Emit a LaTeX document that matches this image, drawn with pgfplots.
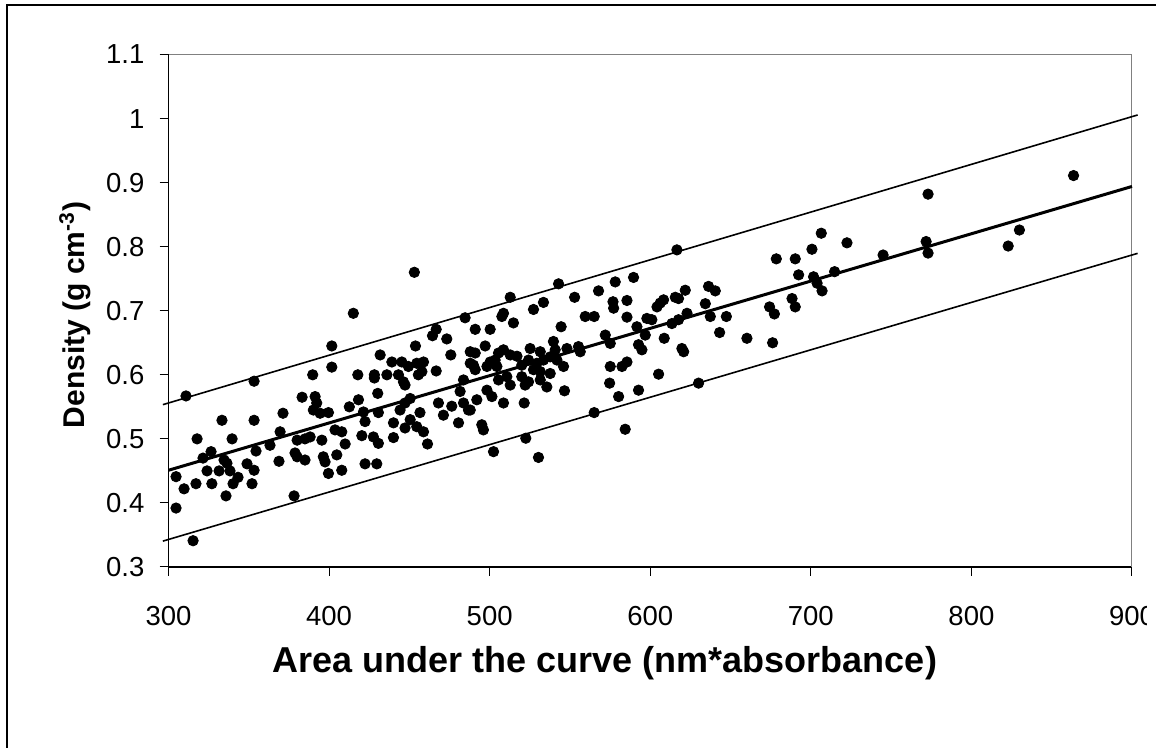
\documentclass[border=0pt]{standalone}
\usepackage{fontspec}
\setmainfont{Liberation Sans}
\usepackage{pgfplots}
\pgfplotsset{compat=1.18}
\begin{document}
\begin{tikzpicture}[x=1pt,y=1pt]
\useasboundingbox (0,0) rectangle (578,374);
\fill[white] (0,0) rectangle (578,374);
\draw[line width=1.1pt] (3.4,0) -- (3.4,371.6) -- (578,371.6);
\begin{axis}[
  at={(84.25pt,90.5pt)}, anchor=south west,
  scale only axis, width=481.75pt, height=256.25pt,
  xmin=300, xmax=900, ymin=0.3, ymax=1.1,
  xtick={300,400,500,600,700,800,900},
  ytick={0.3,0.4,0.5,0.6,0.7,0.8,0.9,1,1.1},
  axis x line*=bottom, axis y line*=left,
  axis line style={-, black, line width=0.6pt},
  tick align=outside, major tick length=4.5pt,
  tick style={black, line width=0.5pt},
  /pgf/number format/assume math mode=true,
  ticklabel style={font=\fontsize{13.75}{16}\selectfont},
  yticklabel style={xshift=-4pt, /pgf/number format/.cd, fixed, precision=1},
  xticklabel style={yshift=-11.5pt, /pgf/number format/.cd, fixed, precision=0},
  xlabel={Area under the curve (nm*absorbance)},
  ylabel={Density (g cm\textsuperscript{-3})},
  xlabel style={at={(axis description cs:0.453,-0.187)}, anchor=center, font=\bfseries\fontsize{18}{21}\selectfont},
  ylabel style={at={(axis description cs:-0.097,0.492)}, anchor=center, rotate=0, font=\bfseries\fontsize{15}{18}\selectfont},
  clip=false,
]
\draw[gray, line width=0.5pt] (axis cs:300,1.1) -- (axis cs:900,1.1) -- (axis cs:900,0.3);
\addplot[black, line width=0.8pt] coordinates {(296.5,0.5534) (903.5,1.0056)};
\addplot[black, line width=0.8pt] coordinates {(296.5,0.3404) (903.5,0.7896)};
\addplot[black, line width=1.5pt] coordinates {(300,0.451) (900,0.894)};
\addplot[only marks, mark=*, mark size=2.6pt, black, mark options={fill=black}] table {
x y
304.7 0.441
304.7 0.392
310.9 0.567
309.7 0.422
315.3 0.341
317.1 0.430
317.8 0.500
321.5 0.470
324.0 0.450
326.5 0.480
327.0 0.430
331.5 0.450
333.3 0.529
334.6 0.467
336.4 0.462
338.3 0.450
335.8 0.411
339.6 0.500
340.2 0.430
343.3 0.440
348.9 0.461
352.0 0.430
353.3 0.451
353.3 0.529
353.3 0.590
354.5 0.481
363.2 0.490
368.8 0.465
369.5 0.511
371.3 0.540
378.2 0.411
378.8 0.478
380.1 0.498
380.1 0.472
385.0 0.500
385.0 0.467
383.2 0.565
389.8 0.600
453.1 0.760
415.1 0.696
484.7 0.689
466.7 0.671
464.4 0.661
473.3 0.656
401.7 0.645
453.8 0.645
431.8 0.631
475.8 0.631
487.9 0.618
491.0 0.608
401.7 0.612
417.9 0.600
428.2 0.600
428.2 0.595
436.0 0.600
439.1 0.620
445.3 0.620
449.4 0.613
454.6 0.618
458.8 0.620
443.2 0.600
446.3 0.589
447.3 0.584
455.6 0.600
457.8 0.605
466.7 0.606
430.3 0.571
483.7 0.592
481.6 0.574
391.3 0.566
392.3 0.556
390.2 0.545
394.4 0.540
399.6 0.541
412.6 0.550
418.3 0.561
421.4 0.542
422.4 0.527
430.7 0.541
447.3 0.556
450.5 0.563
444.2 0.545
456.6 0.541
468.1 0.556
476.4 0.551
483.7 0.556
486.8 0.545
471.2 0.537
480.6 0.525
440.1 0.525
440.1 0.502
447.3 0.517
450.5 0.530
454.6 0.519
458.8 0.511
461.3 0.492
388.2 0.503
395.5 0.498
403.7 0.514
407.9 0.511
410.0 0.492
420.4 0.505
427.6 0.503
430.7 0.493
396.4 0.472
397.5 0.464
404.8 0.475
399.6 0.446
407.9 0.451
422.4 0.461
429.7 0.461
542.9 0.742
512.8 0.721
533.5 0.713
527.3 0.702
552.9 0.721
567.8 0.731
578.2 0.745
589.6 0.752
576.8 0.714
577.2 0.704
585.5 0.716
508.6 0.696
507.6 0.691
514.8 0.681
559.5 0.691
565.1 0.691
585.5 0.690
491.0 0.671
500.3 0.671
544.5 0.675
497.2 0.645
487.9 0.636
491.0 0.634
508.6 0.639
505.5 0.634
503.4 0.623
512.8 0.631
517.0 0.629
525.2 0.641
531.5 0.636
539.7 0.652
540.8 0.639
548.1 0.641
555.3 0.644
556.4 0.636
572.0 0.662
575.1 0.649
591.7 0.675
592.7 0.647
489.9 0.615
498.3 0.613
500.3 0.620
504.5 0.613
520.0 0.615
524.2 0.623
529.4 0.618
533.5 0.623
537.7 0.628
541.9 0.623
546.0 0.613
531.5 0.605
537.7 0.602
527.3 0.608
520.0 0.597
522.1 0.584
531.5 0.592
535.6 0.581
524.2 0.589
510.7 0.597
505.5 0.592
512.8 0.584
575.1 0.613
582.4 0.613
585.5 0.620
574.7 0.587
580.3 0.566
546.6 0.575
592.7 0.576
498.3 0.576
501.4 0.566
492.0 0.561
508.6 0.556
521.5 0.556
487.9 0.545
495.1 0.522
496.1 0.514
565.1 0.541
584.4 0.515
522.5 0.501
502.4 0.480
530.4 0.471
616.6 0.795
678.5 0.781
690.3 0.781
692.4 0.756
621.8 0.732
615.6 0.721
617.6 0.719
608.3 0.717
604.2 0.706
606.2 0.712
636.3 0.738
640.5 0.731
634.3 0.711
601.0 0.686
597.9 0.688
613.5 0.680
617.6 0.686
622.9 0.696
637.4 0.691
647.4 0.691
674.3 0.706
677.3 0.695
688.3 0.719
690.3 0.706
596.9 0.662
594.8 0.639
608.7 0.657
619.7 0.641
620.8 0.636
643.2 0.666
660.2 0.657
676.2 0.650
605.2 0.601
630.1 0.587
773.0 0.882
706.5 0.821
722.5 0.806
700.7 0.796
771.8 0.808
773.0 0.790
745.0 0.787
714.8 0.761
701.7 0.753
703.9 0.743
707.0 0.731
863.6 0.911
829.9 0.826
822.9 0.801
};
\end{axis}
\fill[white] (573.5,55) rectangle (578,88);
\end{tikzpicture}
\end{document}
